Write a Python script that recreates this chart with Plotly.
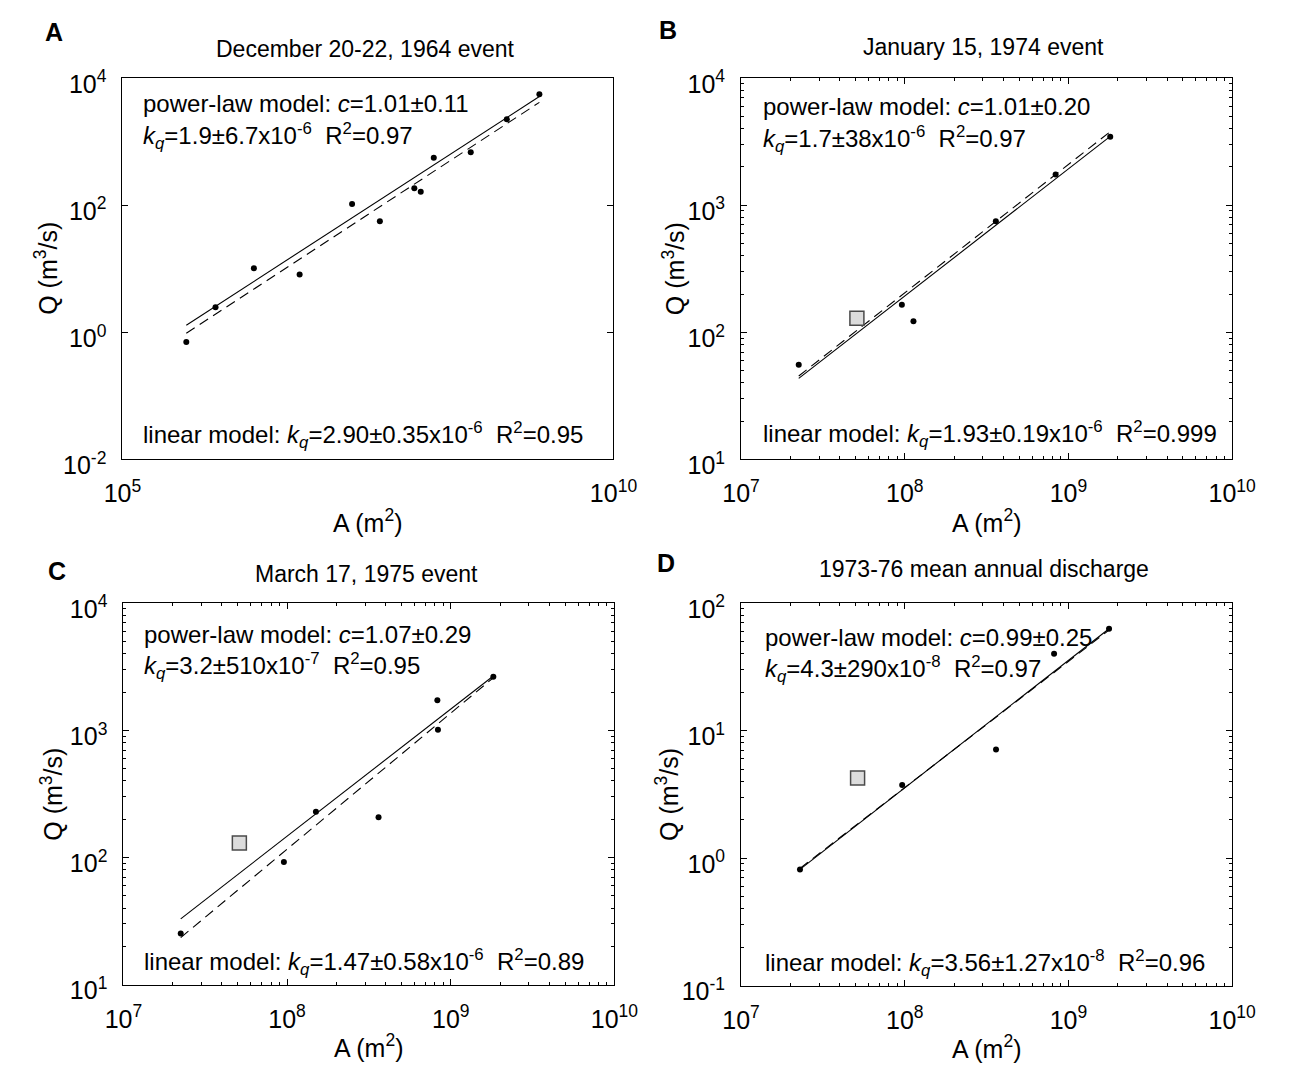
import numpy as np
import plotly.graph_objects as go

FONT = "Liberation Sans, Arial, Helvetica, sans-serif"
W, H = 1289, 1092

# ---------------- data ----------------
# A: December 20-22, 1964 event
area_1964 = [4.47e5, 8.87e5, 2.18e6, 6.37e6, 2.18e7, 4.18e7, 9.38e7, 1.09e8, 1.48e8, 3.52e8, 8.20e8, 1.76e9]
q_1964 = [0.705, 2.49, 10.2, 8.1, 104, 56, 184, 162, 557, 680, 2240, 5570]

# B: January 15, 1974 event
area_1974 = [2.25e7, 9.6e7, 1.13e8, 3.6e8, 8.35e8, 1.8e9]
q_1974 = [55.7, 165, 122, 746, 1742, 3451]
area_1974_sq = [5.1e7]
q_1974_sq = [129]

# C: March 17, 1975 event
area_1975 = [2.24e7, 9.56e7, 1.50e8, 3.62e8, 8.28e8, 8.35e8, 1.82e9]
q_1975 = [25.2, 92, 229, 207, 1725, 1012, 2642]
area_1975_sq = [5.11e7]
q_1975_sq = [130]

# D: 1973-76 mean annual discharge
area_mean = [2.29e7, 9.64e7, 3.61e8, 8.17e8, 1.77e9]
q_mean = [0.815, 3.74, 7.12, 40.1, 63]
area_mean_sq = [5.15e7]
q_mean_sq = [4.25]

# fitted models: power law Q = kq * A^c, linear Q = kq * A
# kq given as (mantissa, uncertainty, exponent)
fits = {
    "A": dict(c=1.01, c_err=0.11, pk=(1.9, "6.7", -6), pr2="0.97", lk=(2.90, "0.35", -6), lr2="0.95"),
    "B": dict(c=1.01, c_err=0.20, pk=(1.7, "38", -6), pr2="0.97", lk=(1.93, "0.19", -6), lr2="0.999"),
    "C": dict(c=1.07, c_err=0.29, pk=(3.2, "510", -7), pr2="0.95", lk=(1.47, "0.58", -6), lr2="0.89"),
    "D": dict(c=0.99, c_err=0.25, pk=(4.3, "290", -8), pr2="0.97", lk=(3.56, "1.27", -8), lr2="0.96"),
}

titles = {
    "A": "December 20-22, 1964 event",
    "B": "January 15, 1974 event",
    "C": "March 17, 1975 event",
    "D": "1973-76 mean annual discharge",
}

# ---------------- layout geometry (pixels) ----------------
boxes = {  # left, right, top, bottom
    "A": (107, 615, 68, 461),
    "B": (747, 1255, 68, 461),
    "C": (108, 616, 609, 1002),
    "D": (747, 1255, 609, 1003),
}
axis_ranges = {  # log10 x range, log10 y range
    "A": ((5, 10), (-2, 4)),
    "B": ((7, 10), (1, 4)),
    "C": ((7, 10), (1, 4)),
    "D": ((7, 10), (-1, 2)),
}
xtickvals = {"A": [1e5, 1e10]}
ytickvals = {"A": [1e-2, 1e0, 1e2, 1e4]}
text_offsets = {  # x from left, line1 / line2 from top, linear line from bottom
    "A": (19, 26, 60, 25),
    "B": (21, 29, 63, 26),
    "C": (19, 32, 65, 23),
    "D": (23, 35, 68, 23),
}
title_y = {"A": 38, "B": 36, "C": 579, "D": 574}
ylabel_x = {"A": 28, "B": 677, "C": 34, "D": 671}
letter_pos = {"A": (36, 21), "B": (671, 19), "C": (39, 576), "D": (669, 568)}

panel_data = {
    "A": (area_1964, q_1964, None, None),
    "B": (area_1974, q_1974, area_1974_sq, q_1974_sq),
    "C": (area_1975, q_1975, area_1975_sq, q_1975_sq),
    "D": (area_mean, q_mean, area_mean_sq, q_mean_sq),
}


def px_x(x):
    return x / W


def px_y(y):
    return 1 - y / H


def tick_text(v):
    return f"10<sup>{int(round(np.log10(v)))}</sup>"


def decade_vals(lo, hi):
    return [10.0 ** d for d in range(lo, hi + 1)]


def minor_vals(lo, hi):
    return [m * 10.0 ** d for d in range(lo, hi) for m in range(2, 10)]


fig = go.Figure()
layout = dict(
    width=W, height=H,
    margin=dict(l=0, r=0, t=0, b=0),
    paper_bgcolor="white", plot_bgcolor="white",
    showlegend=False,
    font=dict(family=FONT, color="black"),
)
annotations = []

for i, key in enumerate(["A", "B", "C", "D"]):
    n = "" if i == 0 else str(i + 1)
    xa, ya = "x" + n, "y" + n
    left, right, top, bottom = boxes[key]
    (x0, x1), (y0, y1) = axis_ranges[key]
    has_minor = key != "A"

    xv = xtickvals.get(key, decade_vals(x0, x1))
    yv = ytickvals.get(key, decade_vals(y0, y1))

    common = dict(
        type="log", tickmode="array", ticks="inside", ticklen=6, tickwidth=1,
        tickcolor="black", showline=True, linecolor="black", linewidth=1,
        mirror="ticks", showgrid=False, zeroline=False,
        tickfont=dict(family=FONT, size=25, color="black"),
    )
    xaxis = dict(common, range=[x0, x1], domain=[px_x(left), px_x(right)], anchor=ya,
                 tickvals=xv, ticktext=[tick_text(v) for v in xv], ticklabelstandoff=12)
    yaxis = dict(common, range=[y0, y1], domain=[px_y(bottom), px_y(top)], anchor=xa,
                 tickvals=yv, ticktext=[tick_text(v) for v in yv], ticklabelstandoff=10,
                 ticklabelshift=6)
    if has_minor:
        mk = dict(ticks="inside", ticklen=3, tickwidth=1, tickcolor="black", showgrid=False)
        xaxis["minor"] = dict(mk, tickvals=minor_vals(x0, x1))
        yaxis["minor"] = dict(mk, tickvals=minor_vals(y0, y1))
    layout["xaxis" + n] = xaxis
    layout["yaxis" + n] = yaxis

    area, q, area_sq, q_sq = panel_data[key]
    f = fits[key]
    a_line = [min(area), max(area)]
    lk = f["lk"][0] * 10.0 ** f["lk"][2]
    pk = f["pk"][0] * 10.0 ** f["pk"][2]

    # linear model (solid)
    fig.add_trace(go.Scatter(x=a_line, y=[lk * a for a in a_line], mode="lines",
                             line=dict(color="black", width=1.1), xaxis=xa, yaxis=ya))
    # power-law model (dashed)
    fig.add_trace(go.Scatter(x=a_line, y=[pk * a ** f["c"] for a in a_line], mode="lines",
                             line=dict(color="black", width=1.1, dash="10px,6px"), xaxis=xa, yaxis=ya))
    # gauged basins
    fig.add_trace(go.Scatter(x=area, y=q, mode="markers",
                             marker=dict(symbol="circle", size=6, color="black"), xaxis=xa, yaxis=ya))
    if area_sq:
        fig.add_trace(go.Scatter(x=area_sq, y=q_sq, mode="markers",
                                 marker=dict(symbol="square", size=14, color="#dcdcdc",
                                             line=dict(color="#4a4a4a", width=1.5)),
                                 xaxis=xa, yaxis=ya))

    # model annotations
    dx, t1, t2, tb = text_offsets[key]
    sp = "\u00a0\u00a0"
    kq = "<i>k<sub>q</sub></i>"
    lines = [
        (top + t1, f"power-law model: <i>c</i>={f['c']:.2f}±{f['c_err']:.2f}"),
        (top + t2, f"{kq}={f['pk'][0]:.1f}±{f['pk'][1]}x10<sup>{f['pk'][2]}</sup>{sp}R<sup>2</sup>={f['pr2']}"),
        (bottom - tb, f"linear model: {kq}={f['lk'][0]:.2f}±{f['lk'][1]}x10<sup>{f['lk'][2]}</sup>{sp}R<sup>2</sup>={f['lr2']}"),
    ]
    for yy, txt in lines:
        annotations.append(dict(x=px_x(left + dx), y=px_y(yy), xref="paper", yref="paper",
                                text=txt, showarrow=False, xanchor="left", yanchor="middle",
                                font=dict(family=FONT, size=24, color="black")))

    cx = (left + right) / 2
    # panel title
    annotations.append(dict(x=px_x(cx - 3), y=px_y(title_y[key]), xref="paper", yref="paper",
                            text=titles[key], showarrow=False, xanchor="center", yanchor="middle",
                            font=dict(family=FONT, size=23, color="black")))
    # axis titles
    annotations.append(dict(x=px_x(cx), y=px_y(bottom + 63), xref="paper", yref="paper",
                            text="A (m<sup>2</sup>)", showarrow=False, xanchor="center",
                            yanchor="middle", font=dict(family=FONT, size=25, color="black")))
    annotations.append(dict(x=px_x(ylabel_x[key]), y=px_y((top + bottom) / 2), xref="paper",
                            yref="paper", text="Q (m<sup>3</sup>/s)", showarrow=False, textangle=-90,
                            xanchor="center", yanchor="middle",
                            font=dict(family=FONT, size=25, color="black")))
    # panel letter
    lx, ly = letter_pos[key]
    annotations.append(dict(x=px_x(lx), y=px_y(ly), xref="paper", yref="paper",
                            text=f"<b>{key}</b>", showarrow=False, xanchor="center",
                            yanchor="middle", font=dict(family=FONT, size=25, color="black")))

layout["annotations"] = annotations
fig.update_layout(**layout)
fig.write_html("out.html")
